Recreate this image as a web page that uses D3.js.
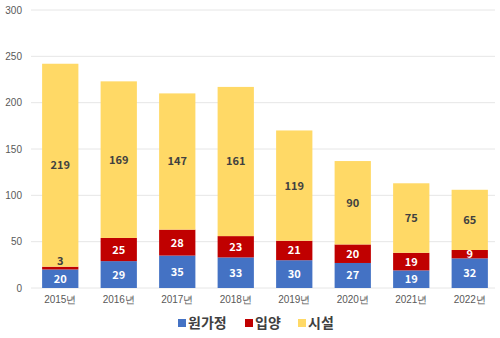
<!DOCTYPE html>
<html>
<head>
<meta charset="utf-8">
<script src="https://cdn.jsdelivr.net/npm/d3@7"></script>
<style>
  body { margin: 0; background: #fff; }
  svg { font-family: "Noto Sans CJK KR", "Noto Sans", sans-serif; }
</style>
</head>
<body>
<svg id="chart" width="500" height="338"></svg>
<script>
const years = ["2015년", "2016년", "2017년", "2018년", "2019년", "2020년", "2021년", "2022년"];
const home = [20, 29, 35, 33, 30, 27, 19, 32];
const adopt = [3, 25, 28, 23, 21, 20, 19, 9];
const facility = [219, 169, 147, 161, 119, 90, 75, 65];
const seriesNames = ["원가정", "입양", "시설"];
const seriesColors = ["#4472C4", "#C00000", "#FFD966"];
const yTicks = [0, 50, 100, 150, 200, 250, 300];

var svg = d3.select("#chart");
var margin = {left: 31, right: 1, top: 10, bottom: 50};
var W = 500, H = 338;

var x = d3.scaleBand()
    .domain(years)
    .range([margin.left, W - margin.right])
    .paddingInner(0.38)
    .paddingOuter(0.19);
var y = d3.scaleLinear()
    .domain([0, 300])
    .range([H - margin.bottom, margin.top]);

// grid lines
svg.append("g")
    .selectAll("line")
    .data(yTicks)
    .join("line")
    .attr("x1", margin.left)
    .attr("x2", W - 5)
    .attr("y1", d => y(d))
    .attr("y2", d => y(d))
    .attr("stroke", "#e6e6e6")
    .attr("stroke-width", 1);

// y axis labels
var yAxis = d3.axisLeft(y).tickValues(yTicks).tickSize(0).tickPadding(9);
var gy = svg.append("g")
    .attr("transform", "translate(" + margin.left + ",0)")
    .call(yAxis);
gy.select(".domain").remove();
gy.selectAll("text").attr("fill", "#595959").attr("font-size", 10);

// x axis labels
var xAxis = d3.axisBottom(x).tickSize(0).tickPadding(8);
var gx = svg.append("g")
    .attr("transform", "translate(0," + y(0) + ")")
    .call(xAxis);
gx.select(".domain").remove();
gx.selectAll("text").attr("fill", "#595959").attr("font-size", 10);

// stacked bars
var rows = years.map((yr, i) => ({year: yr, s0: home[i], s1: adopt[i], s2: facility[i]}));
var stack = d3.stack().keys(["s0", "s1", "s2"])(rows);

var barsG = svg.append("g");
var labelsG = svg.append("g");

stack.forEach(function(layer, li) {
    barsG.append("g")
        .selectAll("rect")
        .data(layer)
        .join("rect")
        .attr("x", d => x(d.data.year))
        .attr("y", d => y(d[1]))
        .attr("width", x.bandwidth())
        .attr("height", d => y(d[0]) - y(d[1]))
        .attr("fill", seriesColors[li]);

    // labels go on top of every bar; tiny segments get the label just above
    labelsG.append("g")
        .selectAll("text")
        .data(layer)
        .join("text")
        .attr("x", d => x(d.data.year) + x.bandwidth() / 2)
        .attr("y", function(d) {
            var h = y(d[0]) - y(d[1]);
            if (h < 5) return y(d[1]) - 2;
            return (y(d[0]) + y(d[1])) / 2;
        })
        .attr("dy", d => (y(d[0]) - y(d[1]) < 5) ? "0" : "0.36em")
        .attr("text-anchor", "middle")
        .attr("font-size", 11)
        .attr("font-weight", "bold")
        .attr("fill", function(d) {
            var h = y(d[0]) - y(d[1]);
            if (li == 2 || h < 5) return "#404040";
            return "#fff";
        })
        .text(d => d[1] - d[0]);
});

// legend
var legendX = [178, 245, 298];
var lg = svg.append("g").attr("transform", "translate(0,323)");
seriesNames.forEach(function(name, i) {
    lg.append("rect")
        .attr("x", legendX[i])
        .attr("y", -4)
        .attr("width", 8)
        .attr("height", 8)
        .attr("fill", seriesColors[i]);
    lg.append("text")
        .attr("x", legendX[i] + 10)
        .attr("y", 0)
        .attr("dy", "0.36em")
        .attr("font-size", 14)
        .attr("font-weight", "bold")
        .attr("fill", "#404040")
        .text(name);
});
</script>
</body>
</html>
